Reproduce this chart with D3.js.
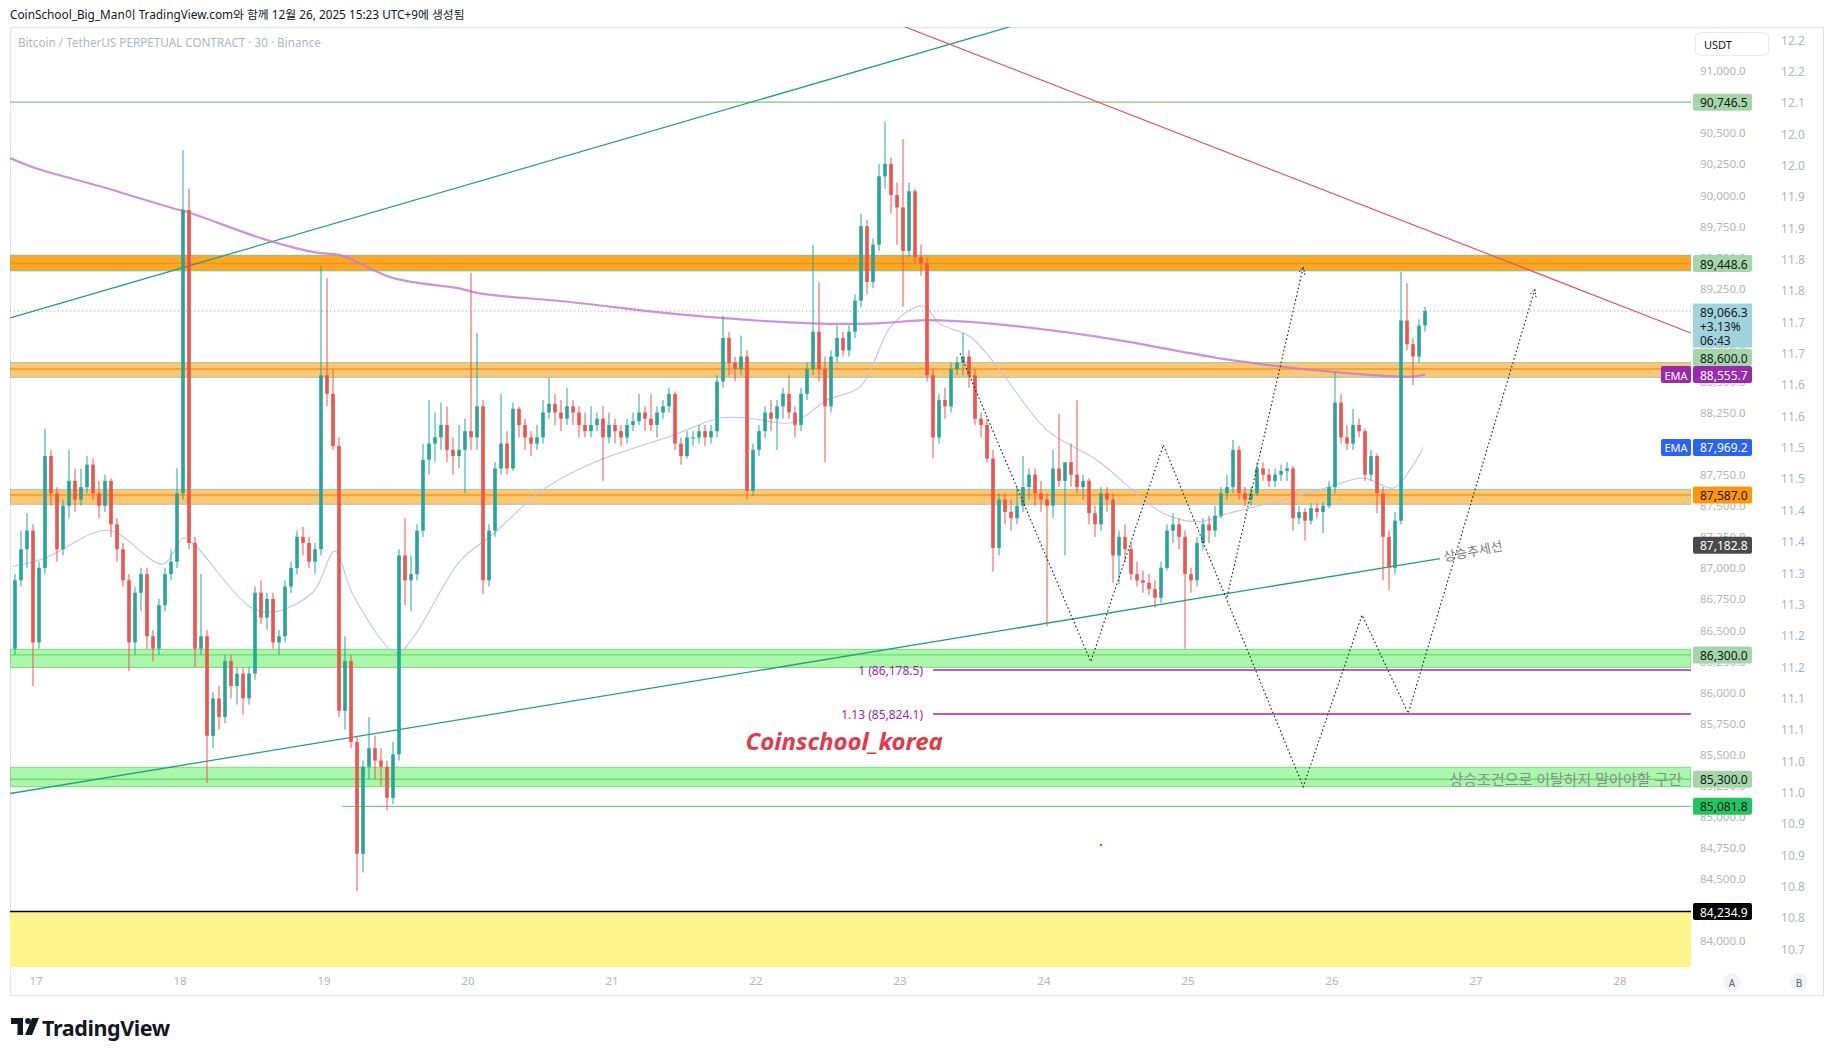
<!DOCTYPE html>
<html><head><meta charset="utf-8">
<script src="https://cdn.jsdelivr.net/npm/d3@7"></script>
<style>body{margin:0;background:#fff;}svg{display:block}</style>
</head><body>
<svg id="c" width="1835" height="1056"></svg>
<script>
// ---------- DATA ----------
// hourly OHLC (open, high, low, close)
const day16 = [[86350,86950,86300,86900],[86900,87300,86850,87150],[87150,87440,87000,87300],[87300,87350,86050,86400]];
const day17 = [[86400,87050,86350,87000],[87000,88120,86950,87900],[87900,87950,87500,87600],[87600,87650,87050,87150],[87150,87550,87100,87500],[87500,87950,87400,87700],[87700,87800,87450,87550],[87550,87800,87500,87650],[87650,87900,87600,87830],[87830,87880,87550,87600],[87600,87700,87400,87500],[87500,87750,87450,87700],[87700,87720,87250,87350],[87350,87400,87050,87150],[87150,87200,86850,86900],[86900,86950,86170,86400],[86400,86850,86300,86800],[86800,87000,86650,86950],[86950,87000,86350,86450],[86450,86500,86250,86350],[86350,86750,86300,86700],[86700,87000,86650,86950],[86950,87150,86900,87050],[87050,87800,87000,87600]];
const day18 = [[87600,90360,87550,89880],[89880,90050,87150,87200],[87200,87250,86200,86350],[86350,86950,86300,86450],[86450,86500,85270,85650],[85650,86000,85550,85950],[85950,86050,85700,85800],[85800,86300,85750,86250],[86250,86300,85950,86050],[86050,86200,85900,86150],[86150,86200,85820,85950],[85950,86200,85900,86150],[86150,86850,86100,86800],[86800,86900,86550,86600],[86600,86800,86500,86750],[86750,86800,86350,86400],[86400,86500,86300,86450],[86450,86900,86400,86850],[86850,87050,86800,87000],[87000,87300,86950,87250],[87250,87330,87100,87200],[87200,87250,87000,87050],[87050,87200,86950,87150],[87150,89430,87100,88550]];
const day19 = [[88550,89330,88300,88400],[88400,88600,87950,87980],[87980,88050,85800,85850],[85850,86450,85700,86250],[86250,86300,85550,85600],[85600,85650,84400,84700],[84700,85450,84550,85400],[85400,85800,85300,85550],[85550,85650,85300,85450],[85450,85550,85250,85400],[85400,85450,85050,85150],[85150,85600,85100,85500],[85500,87150,85450,87100],[87100,87400,86700,86900],[86900,87100,86650,86950],[86950,87350,86900,87300],[87300,88000,87250,87870],[87870,88350,87750,88000],[88000,88250,87850,88050],[88050,88330,87950,88150],[88150,88300,87850,87950],[87950,88050,87750,87900],[87900,88150,87800,87950],[87950,88200,87600,88100]];
const day20 = [[88100,89370,87950,88050],[88050,88890,87950,88300],[88300,88350,86790,86900],[86900,87350,86850,87300],[87300,87850,87250,87800],[87800,88400,87750,88000],[88000,88100,87750,87800],[87800,88330,87780,88280],[88280,88300,88050,88150],[88150,88200,87950,88050],[88050,88100,87900,88000],[88000,88150,87950,88050],[88050,88350,88000,88250],[88250,88530,88200,88320],[88320,88400,88150,88250],[88250,88350,88100,88200],[88200,88450,88150,88300],[88300,88350,88150,88250],[88250,88300,88050,88150],[88150,88250,88050,88100],[88100,88300,88050,88150],[88150,88250,88100,88200],[88200,88300,87700,88050],[88050,88250,88000,88150]];
const day21 = [[88150,88200,88000,88100],[88100,88150,87980,88050],[88050,88200,88000,88150],[88150,88250,88100,88180],[88180,88400,88150,88250],[88250,88300,88100,88200],[88200,88400,88100,88150],[88150,88300,88050,88250],[88250,88350,88200,88300],[88300,88450,88250,88400],[88400,88420,87950,88000],[88000,88050,87830,87900],[87900,88100,87880,88050],[88050,88100,87980,88050],[88050,88150,88000,88100],[88100,88150,87980,88050],[88050,88150,88000,88100],[88100,88550,88050,88500],[88500,89030,88450,88850],[88850,88900,88550,88650],[88650,88700,88500,88600],[88600,88870,88550,88700],[88700,88750,87550,87620],[87620,88000,87580,87950]];
const day22 = [[87950,88150,87900,88100],[88100,88300,88050,88250],[88250,88350,88100,88200],[88200,88350,87950,88300],[88300,88450,88200,88400],[88400,88550,88200,88250],[88250,88300,88050,88150],[88150,88450,88100,88400],[88400,88650,88350,88600],[88600,89600,88550,88900],[88900,89300,88500,88600],[88600,88700,87850,88300],[88300,88750,88250,88700],[88700,88950,88650,88850],[88850,88900,88700,88750],[88750,88950,88700,88900],[88900,89200,88850,89150],[89150,89850,89100,89750],[89750,89800,89200,89300],[89300,89650,89250,89600],[89600,90250,89550,90150],[90150,90590,90050,90250],[90250,90300,89850,90000],[90000,90100,89600,89900]];
const day23 = [[89900,90450,89100,89550],[89550,90100,89500,90030],[90030,90050,89450,89500],[89500,89600,89350,89450],[89450,89500,88500,88550],[88550,88600,87880,88050],[88050,88400,88000,88350],[88350,88450,88200,88300],[88300,88650,88250,88600],[88600,88700,88550,88650],[88650,88890,88550,88700],[88700,88750,88450,88550],[88550,88600,88150,88200],[88200,88250,88050,88150],[88150,88200,87850,87880],[87880,87950,86970,87160],[87160,87600,87100,87550],[87550,87600,87350,87450],[87450,87550,87300,87400],[87400,87650,87350,87500],[87500,87900,87450,87650],[87650,87800,87550,87750],[87750,87800,87500,87600],[87600,87700,87450,87550]];
const day24 = [[87550,87600,86530,87500],[87500,87950,87400,87800],[87800,88240,87650,87700],[87700,87750,87100,87850],[87850,88000,87650,87750],[87750,88350,87600,87650],[87650,87750,87550,87700],[87700,87720,87350,87440],[87440,87500,87250,87350],[87350,87650,87300,87600],[87600,87650,87450,87550],[87550,87600,86880,87100],[87100,87300,86870,87250],[87250,87350,87050,87150],[87150,87200,86900,86950],[86950,87050,86850,86900],[86900,86980,86800,86880],[86880,86950,86780,86830],[86830,86900,86680,86760],[86760,87050,86720,87000],[87000,87350,86980,87300],[87300,87440,87200,87350],[87350,87400,87150,87250],[87250,87300,86350,86950]];
const day25 = [[86950,87000,86800,86900],[86900,87250,86850,87200],[87200,87400,87150,87350],[87350,87420,87200,87300],[87300,87500,87250,87420],[87420,87650,87400,87600],[87600,87750,87550,87650],[87650,88030,87600,87950],[87950,87980,87550,87600],[87600,87650,87500,87550],[87550,87650,87500,87600],[87600,87850,87580,87800],[87800,87850,87700,87750],[87750,87800,87650,87700],[87700,87800,87650,87750],[87750,87830,87700,87780],[87780,87850,87700,87800],[87800,87820,87300,87400],[87400,87500,87350,87450],[87450,87480,87220,87380],[87380,87520,87350,87480],[87480,87520,87400,87450],[87450,87530,87280,87500],[87500,87700,87480,87650]];
const day26 = [[87650,88580,87600,88330],[88330,88400,88000,88050],[88050,88150,87950,88000],[88000,88280,87950,88150],[88150,88200,88050,88100],[88100,88120,87700,87750],[87750,87950,87700,87900],[87900,87920,87440,87600],[87600,87650,86900,87250],[87250,87300,86820,87000],[87000,87450,86950,87380],[87380,89380,87350,88990],[88990,89290,88750,88800],[88800,88850,88470,88700],[88700,89000,88650,88950],[88950,89100,88900,89066.3]];
const dayBlocks = [day16, day17, day18, day19, day20, day21, day22, day23, day24, day25, day26];
const dayStartHours = [-4, 0, 24, 48, 72, 96, 120, 144, 168, 192, 216];

// EMA lines: [hour since Dec 17 00:00, price]
const emaSlow = [[-4.3,90297],[0.1,90213],[10.7,90070],[23.4,89885],[25.1,89865],[38.4,89639],[46.8,89536],[50.7,89516],[59.6,89331],[70.7,89247],[74,89208],[89,89139],[107.3,89039],[129.5,88967],[140,88967],[148.5,88994],[157.3,88973],[176.8,88860],[199,88673],[215.7,88579],[229,88538],[231.5,88555.7]];
const emaFast = [[-3.8,87012],[1.2,87073],[10.7,87299],[13.5,87281],[21.2,87031],[24.5,87240],[26.2,87196],[35.7,86685],[39.5,86645],[46.2,86806],[49.8,87136],[52.8,86786],[60.1,86316],[62.8,86436],[70.7,87056],[76.2,87273],[84.5,87630],[92.9,87846],[106.2,88068],[114,88206],[118.5,88206],[126.2,88170],[131.8,88351],[137.3,88456],[142.8,88963],[147.8,89107],[150.7,88963],[155.7,88860],[160.2,88619],[168.5,88109],[176.8,87868],[187.8,87442],[193.5,87372],[199,87442],[209,87563],[215.7,87653],[221.2,87723],[226.2,87643],[229,87788],[231.2,87969.2]];

// trend lines [hour, price]
const upperTrend = [[-4.3,89011],[162.7,91359]];
const lowerTrend = [[-4.3,85185],[234,87075]];
const redTrend = [[144.5,91359],[275.8,88890]];
// projected zig-zags
const zigzagA = [[154,88727],[175.8,86245],[187.9,87989],[211.2,85240],[221,86621],[228.7,85830],[249.8,89241]];
const zigzagB = [[198.5,86766],[211.2,89421]];

// zones
const zoneMid = [89448.6, 88600.0, 87587.0, 86300.0, 85300.0];
const zoneTop = [89515, 88652, 87632, 86345, 85396];
const zoneBottom = [89390, 88533, 87512, 86200, 85240];
const levelTop = 90746.5, levelLow = 85081.8, levelFloor = 84234.9;
const levelLowStartHour = 51;
const fibLevels = [86178.5, 85824.1];
const fibLabels = ["1 (86,178.5)", "1.13 (85,824.1)"];
const fibStartHour = 149.5;
const lastPrice = 89066.3;

// price axis
const priceTicks = d3.range(84000, 91001, 250);
const bTicks = [12.20,12.15,12.10,12.05,12.00,11.95,11.90,11.85,11.80,11.75,11.70,11.65,11.60,11.55,11.50,11.45,11.40,11.35,11.30,11.25,11.20,11.15,11.10,11.05,11.00,10.95,10.90,10.85,10.80,10.75];
const bLabels = ["12.2","12.2","12.1","12.0","12.0","11.9","11.9","11.8","11.8","11.7","11.7","11.6","11.6","11.5","11.5","11.4","11.4","11.3","11.3","11.2","11.2","11.1","11.1","11.0","11.0","10.9","10.9","10.8","10.8","10.7"];
const axisLabelPrices = [90746.5, 89448.6, 88600.0, 88555.7, 87969.2, 87587.0, 87182.8, 86300.0, 85300.0, 85081.8, 84234.9];
const axisLabelKinds = ["zone","zone","zone","emaSlow","emaFast","orange","gray","zone","zone","bright","black"];
const priceChange = "+3.13%", countdown = "06:43";

// ---------- SCALES ----------
const T0 = Date.UTC(2025, 11, 17, 0, 0);
const HOUR = 3600e3;
const L = 10, R = 1691, TOP = 27, BOT = 967;
const x = d3.scaleUtc().domain([new Date(T0 - 4.333*HOUR), new Date(T0 + 275.83*HOUR)]).range([L, R]);
const y = d3.scaleLinear().domain([84000, 91000]).range([940.8, 70.7]);
const yB = d3.scaleLinear().domain([12.20, 10.75]).range([40, 949.3]);
const tx = h => x(new Date(T0 + h*HOUR));

const FONT = '"Noto Sans","Noto Sans CJK KR",sans-serif';
const svg = d3.select("#c").style("font-family", FONT);
svg.append("rect").attr("width",1835).attr("height",1056).attr("fill","#fff");

// header
svg.append("text").attr("x",10).attr("y",14).attr("dominant-baseline","central")
  .attr("font-size",11.8).attr("fill","#131722")
  .text("CoinSchool_Big_Man이 TradingView.com와 함께 12월 26, 2025 15:23 UTC+9에 생성됨");
// frame
svg.append("rect").attr("x",10.5).attr("y",TOP+0.5).attr("width",1813).attr("height",968)
  .attr("fill","none").attr("stroke","#e0e3eb");
svg.append("text").attr("x",18).attr("y",42).attr("dominant-baseline","central")
  .attr("font-size",11.7).attr("fill","#b2b5be")
  .text("Bitcoin / TetherUS PERPETUAL CONTRACT · 30 · Binance");

svg.append("defs").append("clipPath").attr("id","plot").append("rect")
  .attr("x",L).attr("y",TOP).attr("width",R-L).attr("height",BOT-TOP);
const g = svg.append("g").attr("clip-path","url(#plot)");

// yellow floor
g.append("rect").attr("x",L).attr("width",R-L).attr("y",y(levelFloor)).attr("height",BOT-y(levelFloor)).attr("fill","#fff48c");
g.append("line").attr("x1",L).attr("x2",R).attr("y1",y(levelFloor)).attr("y2",y(levelFloor)).attr("stroke","#000").attr("stroke-width",1.5);

// zones
const zoneFill = ["rgba(255,152,0,0.86)","rgba(255,152,0,0.55)","rgba(255,152,0,0.55)","rgba(20,230,20,0.36)","rgba(20,230,20,0.36)"];
const zoneEdge = ["#7fc48a","#8fcfc0","#8fcfc0","#7fd67f","#7fd67f"];
const zoneLine = ["#f59300","#f59a1a","#f59a1a","#6fdc6f","#6fdc6f"];
zoneMid.forEach((m,i)=>{
  g.append("rect").attr("x",L).attr("width",R-L).attr("y",y(zoneTop[i])).attr("height",y(zoneBottom[i])-y(zoneTop[i]))
    .attr("fill",zoneFill[i]).attr("stroke",zoneEdge[i]).attr("stroke-width",1);
  g.append("line").attr("x1",L).attr("x2",R).attr("y1",y(m)).attr("y2",y(m)).attr("stroke",zoneLine[i]).attr("stroke-width",1.4);
});

// horizontal levels
g.append("line").attr("x1",L).attr("x2",R).attr("y1",y(levelTop)).attr("y2",y(levelTop)).attr("stroke","#81c784").attr("stroke-width",1.3);
g.append("line").attr("x1",tx(levelLowStartHour)).attr("x2",R).attr("y1",y(levelLow)).attr("y2",y(levelLow)).attr("stroke","#5cc46a").attr("stroke-width",1);
fibLevels.forEach((f,i)=>{
  g.append("line").attr("x1",tx(fibStartHour)).attr("x2",R).attr("y1",y(f)).attr("y2",y(f)).attr("stroke","#9c27b0").attr("stroke-width",1.4);
  g.append("text").attr("x",tx(fibStartHour)-10).attr("y",y(f)).attr("dominant-baseline","central").attr("text-anchor","end")
    .attr("font-size",12).attr("fill","#9c27b0").text(fibLabels[i]);
});
// last price dotted line
g.append("line").attr("x1",L).attr("x2",R).attr("y1",y(lastPrice)).attr("y2",y(lastPrice)).attr("stroke","#9598a1").attr("stroke-width",1).attr("stroke-dasharray","1,3");

// trend lines
const lineGen = d3.line().x(d=>tx(d[0])).y(d=>y(d[1]));
g.append("path").attr("d",lineGen(upperTrend)).attr("fill","none").attr("stroke","#22a07c").attr("stroke-width",1.3);
g.append("path").attr("d",lineGen(lowerTrend)).attr("fill","none").attr("stroke","#22a07c").attr("stroke-width",1.3);
g.append("path").attr("d",lineGen(redTrend)).attr("fill","none").attr("stroke","#e4575f").attr("stroke-width",1.2);

// EMAs
const smooth = d3.line().x(d=>tx(d[0])).y(d=>y(d[1])).curve(d3.curveCatmullRom.alpha(0.5));
g.append("path").attr("d",smooth(emaFast)).attr("fill","none").attr("stroke","#bfc3f3").attr("stroke-width",1.1);
g.append("path").attr("d",smooth(emaSlow)).attr("fill","none").attr("stroke","#c47fd2").attr("stroke-opacity",0.85).attr("stroke-width",2.2);

// candles
const candles = [];
dayBlocks.forEach((blk,bi)=>blk.forEach((c,i)=>candles.push({h: dayStartHours[bi]+i, o:c[0], hi:c[1], lo:c[2], c:c[3]})));
const cw = (tx(1)-tx(0))*0.6;
const cg = g.append("g");
candles.forEach(d=>{
  const cx = tx(d.h+0.5);
  const up = d.c >= d.o;
  const col = up ? "#26a69a" : "#ef5350";
  cg.append("line").attr("x1",cx).attr("x2",cx).attr("y1",y(d.hi)).attr("y2",y(d.lo)).attr("stroke",col).attr("stroke-width",1);
  const yt = y(Math.max(d.o,d.c)), yb = y(Math.min(d.o,d.c));
  cg.append("rect").attr("x",cx-cw/2).attr("width",cw).attr("y",yt).attr("height",Math.max(1,yb-yt)).attr("fill",col);
});

// zig-zag projections
function dotted(pts){
  g.append("path").attr("d",lineGen(pts)).attr("fill","none").attr("stroke","#1e222d").attr("stroke-width",1.1).attr("stroke-dasharray","1.6,2.4");
  const a = pts[pts.length-2], b = pts[pts.length-1];
  const x1=tx(a[0]),y1=y(a[1]),x2=tx(b[0]),y2=y(b[1]);
  const ang = Math.atan2(y2-y1,x2-x1), s=8;
  const p1=[x2-s*Math.cos(ang-0.45),y2-s*Math.sin(ang-0.45)], p2=[x2-s*Math.cos(ang+0.45),y2-s*Math.sin(ang+0.45)];
  g.append("path").attr("d",`M${p1}L${x2},${y2}L${p2}`).attr("fill","none").attr("stroke","#1e222d").attr("stroke-width",1).attr("stroke-dasharray","1.6,1.6");
}
dotted(zigzagA); dotted(zigzagB);

// annotations
g.append("text").attr("x",tx(134.7)).attr("y",y(85300)-39).attr("dominant-baseline","central").attr("text-anchor","middle")
  .attr("font-size",24).attr("font-weight","bold").attr("font-style","italic").attr("fill","#e5394a").text("Coinschool_korea");
g.append("text").attr("transform",`translate(${tx(234.6)},${y(87090)}) rotate(-11)`)
  .attr("font-size",13).attr("fill","#787b86").attr("dominant-baseline","central").text("상승추세선");
g.append("text").attr("x",R-9).attr("y",y(85300)).attr("dominant-baseline","central").attr("text-anchor","end")
  .attr("font-size",15).attr("fill","#8a8d96").text("상승조건으로 이탈하지 말아야할 구간");
g.append("circle").attr("cx",tx(177.5)).attr("cy",y(84770)).attr("r",1.2).attr("fill","#e53935");

// price axis ticks
svg.append("g").selectAll("text").data(priceTicks).join("text")
  .attr("x",1700).attr("y",d=>y(d)).attr("dominant-baseline","central").attr("font-size",11.5).attr("fill","#b2b5be")
  .text(d=>d3.format(",.1f")(d));
svg.append("g").selectAll("text").data(bTicks).join("text")
  .attr("x",1793).attr("y",d=>yB(d)).attr("dominant-baseline","central").attr("text-anchor","middle").attr("font-size",12).attr("fill","#b2b5be")
  .text((d,i)=>bLabels[i]);

// USDT box
svg.append("rect").attr("x",1695.5).attr("y",32.5).attr("width",73).attr("height",23).attr("rx",4).attr("fill","#fff").attr("stroke","#e8eaf0");
svg.append("text").attr("x",1704).attr("y",44).attr("dominant-baseline","central").attr("font-size",11).attr("fill","#131722").text("USDT");

// axis labels
const kindFill = {zone:"#a5d6a7", emaSlow:"#9c27b0", emaFast:"#2962ff", orange:"#ff9800", gray:"#4a4a4a", bright:"#1ec75d", black:"#000"};
const kindText = {zone:"#131722", emaSlow:"#fff", emaFast:"#fff", orange:"#131722", gray:"#fff", bright:"#131722", black:"#fff"};
const LH = 17;
const labelItems = axisLabelPrices.map((p,i)=>({p, kind:axisLabelKinds[i], cy:y(p)}));
for (let i = labelItems.length-2; i>=0; i--){
  if (labelItems[i+1].cy - labelItems[i].cy < LH) labelItems[i].cy = labelItems[i+1].cy - LH;
}
const lg = svg.append("g");
labelItems.forEach(d=>{
  lg.append("rect").attr("x",1693).attr("y",d.cy-LH/2).attr("width",59).attr("height",LH).attr("rx",2).attr("fill",kindFill[d.kind]);
  lg.append("text").attr("x",1700).attr("y",d.cy+0.5).attr("dominant-baseline","central").attr("font-size",12).attr("fill",kindText[d.kind]).text(d3.format(",.1f")(d.p));
  if (d.kind==="emaSlow"||d.kind==="emaFast"){
    lg.append("rect").attr("x",1661).attr("y",d.cy-LH/2).attr("width",30).attr("height",LH).attr("rx",2).attr("fill",kindFill[d.kind]);
    lg.append("text").attr("x",1676).attr("y",d.cy+0.5).attr("text-anchor","middle").attr("dominant-baseline","central").attr("font-size",11).attr("fill","#fff").text("EMA");
  }
});
// last price block
const lpY = y(lastPrice);
lg.append("rect").attr("x",1693).attr("y",lpY-7.5).attr("width",59).attr("height",44).attr("fill","#a0d3dc");
[d3.format(",.1f")(lastPrice), priceChange, countdown].forEach((t,i)=>{
  lg.append("text").attr("x",1700).attr("y",lpY+1+i*14).attr("dominant-baseline","central").attr("font-size",12).attr("fill","#131722").text(t);
});

// time axis
const days = d3.utcDay.range(new Date(T0), x.domain()[1]);
svg.append("g").selectAll("text").data(days).join("text")
  .attr("x",d=>x(d)).attr("y",980.5).attr("text-anchor","middle").attr("dominant-baseline","central")
  .attr("font-size",11.5).attr("fill","#b2b5be").text(d=>d3.utcFormat("%-d")(d));
[["A",1732],["B",1799]].forEach(([t,cx])=>{
  svg.append("circle").attr("cx",cx).attr("cy",982).attr("r",9).attr("fill","#f2f3f6");
  svg.append("text").attr("x",cx).attr("y",982.5).attr("text-anchor","middle").attr("dominant-baseline","central").attr("font-size",10).attr("fill","#5d606b").text(t);
});

// TradingView logo
const logo = svg.append("g").attr("fill","#131722");
logo.append("path").attr("d","M11,1018h12v17h-5.5v-11h-6.5z");
logo.append("circle").attr("cx",28).attr("cy",1021).attr("r",2.9);
logo.append("path").attr("d","M32,1018h7l-7,17h-7z");
svg.append("text").attr("x",42).attr("y",1027).attr("dominant-baseline","central").attr("font-size",21.5).attr("font-weight","bold")
  .attr("fill","#131722").attr("letter-spacing","-0.4").text("TradingView");
</script>
</body></html>
